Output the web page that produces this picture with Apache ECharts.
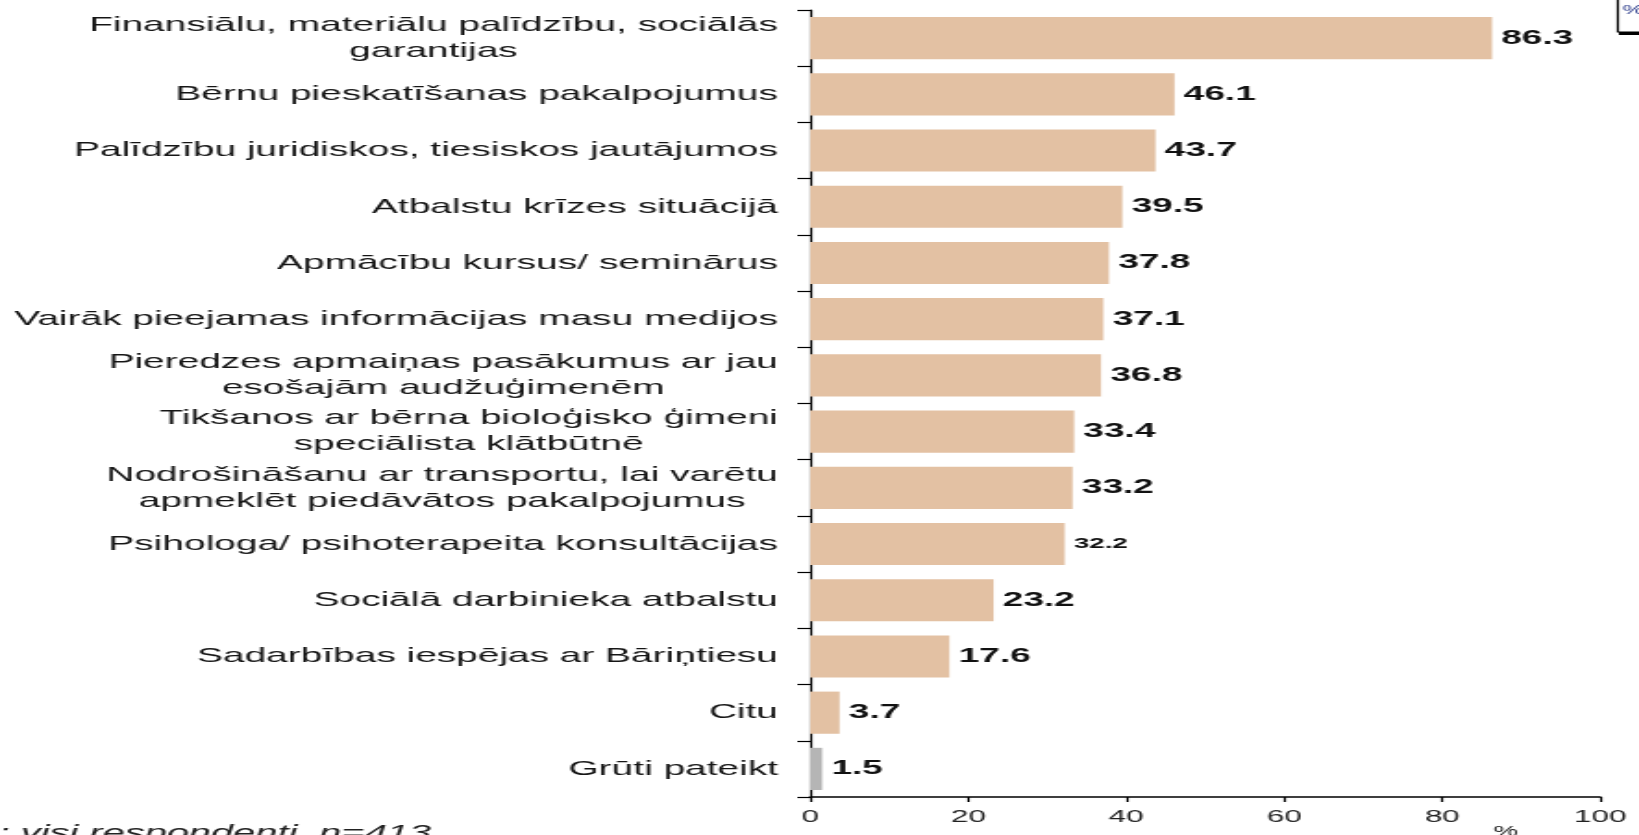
<!DOCTYPE html>
<html>
<head>
<meta charset="utf-8">
<script src="https://cdn.jsdelivr.net/npm/echarts@6/dist/echarts.min.js"></script>
<style>
html,body{margin:0;padding:0;background:#fff;overflow:hidden;width:1639px;height:835px;}
#chart{width:886px;height:835px;transform:scaleX(1.85);transform-origin:0 0;}
</style>
</head>
<body>
<div id="chart"></div>
<script>
// ---- data ----
const categories = [
  "Finansiālu, materiālu palīdzību, sociālās\ngarantijas",
  "Bērnu pieskatīšanas pakalpojumus",
  "Palīdzību juridiskos, tiesiskos jautājumos",
  "Atbalstu krīzes situācijā",
  "Apmācību kursus/ seminārus",
  "Vairāk pieejamas informācijas masu medijos",
  "Pieredzes apmaiņas pasākumus ar jau\nesošajām audžuģimenēm",
  "Tikšanos ar bērna bioloģisko ģimeni\nspeciālista klātbūtnē",
  "Nodrošināšanu ar transportu, lai varētu\napmeklēt piedāvātos pakalpojumus",
  "Psihologa/ psihoterapeita konsultācijas",
  "Sociālā darbinieka atbalstu",
  "Sadarbības iespējas ar Bāriņtiesu",
  "Citu",
  "Grūti pateikt"
];
const values = [86.3, 46.1, 43.7, 39.5, 37.8, 37.1, 36.8, 33.4, 33.2, 32.2, 23.2, 17.6, 3.7, 1.5];
const xTicks = { min: 0, max: 100, interval: 20 };
const axisUnit = "%";
const footnote = "Bāze: visi respondenti, n=413";
const legendText = "%";

// ---- styles ----
const FONT = '"Liberation Sans", Arial, sans-serif';
const CAT_SIZE = 21;
const tan = '#E3C1A3';
const gray = '#B5B5B5';

// measure lines for center-aligned multi-line labels
const mctx = document.createElement('canvas').getContext('2d');
mctx.font = CAT_SIZE + 'px ' + FONT;
const rich = {};
const catKeys = categories.map((c, i) => {
  const lines = c.split('\n');
  const w = Math.max(...lines.map(l => mctx.measureText(l).width)) + 1;
  rich['c' + i] = { width: w, align: 'center', fontSize: CAT_SIZE, lineHeight: 26, fontFamily: FONT, color: '#151515' };
  return 'c' + i;
});

const chart = echarts.init(document.getElementById('chart'));
chart.setOption({
  animation: false,
  backgroundColor: '#fff',
  grid: { left: 438, right: 21, top: 10, bottom: 38, containLabel: false },
  xAxis: {
    type: 'value', min: xTicks.min, max: xTicks.max, interval: xTicks.interval,
    axisLine: { show: true, lineStyle: { color: '#000', width: 1.5 } },
    axisTick: { show: true, length: 5, lineStyle: { color: '#000', width: 1.2 } },
    axisLabel: { fontSize: 17, color: '#222', fontFamily: FONT, margin: 12 },
    splitLine: { show: false }
  },
  yAxis: {
    type: 'category', data: categories, inverse: true,
    axisLine: { show: true, lineStyle: { color: '#000', width: 1.2 } },
    axisTick: { show: true, length: 7, lineStyle: { color: '#000', width: 1.2 } },
    axisLabel: {
      margin: 17, align: 'right', fontSize: CAT_SIZE, fontFamily: FONT, color: '#151515',
      formatter: (val) => {
        const k = catKeys[categories.indexOf(val)];
        return val.split('\n').map(l => '{' + k + '|' + l + '}').join('\n');
      },
      rich: rich
    }
  },
  series: [{
    type: 'bar',
    barCategoryGap: '25%',
    data: values.map((v, i) => ({
      value: v,
      itemStyle: { color: i === values.length - 1 ? gray : tan },
      label: i === 9 ? { fontSize: 15 } : undefined
    })),
    label: {
      show: true, position: 'right', distance: 5,
      fontSize: 20, fontWeight: 'bold', color: '#111', fontFamily: FONT,
      formatter: p => p.value.toFixed(1)
    }
  }],
  graphic: [
    { type: 'text', position: [233, 823], style: { text: footnote, font: 'italic 21.5px ' + FONT, fill: '#222', textAlign: 'right' } },
    { type: 'text', position: [814, 824], style: { text: axisUnit, font: '15px ' + FONT, fill: '#222', textAlign: 'center' } },
    { type: 'rect', shape: { x: 874.5, y: -10, width: 40, height: 42 }, style: { fill: '#fff', stroke: '#000', lineWidth: 1.2 } },
    { type: 'line', shape: { x1: 875, y1: 33.5, x2: 900, y2: 33.5 }, style: { stroke: '#000', lineWidth: 3 } },
    { type: 'text', position: [877, 4], style: { text: legendText, font: '13px ' + FONT, fill: '#2a3a8a' } }
  ]
});
</script>
</body>
</html>
